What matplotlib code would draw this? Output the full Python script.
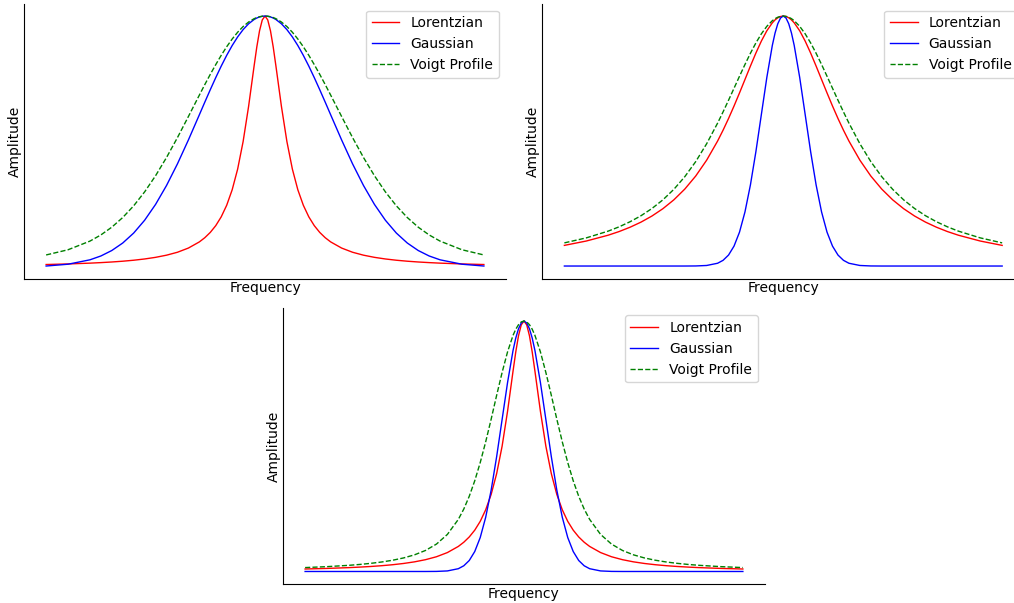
import numpy as np
import matplotlib
matplotlib.use('Agg')
import matplotlib.pyplot as plt

# frequency samples (arbitrary units), same grid for every curve
freq = [-10, -9, -8, -7.5, -7, -6.5, -6, -5.5, -5, -4.5, -4, -3.5, -3, -2.75, -2.5, -2.25,
        -2, -1.75, -1.5, -1.25, -1, -0.75, -0.5, -0.375, -0.25, -0.125, 0,
        0.125, 0.25, 0.375, 0.5, 0.75, 1, 1.25, 1.5, 1.75, 2, 2.25, 2.5, 2.75, 3,
        3.5, 4, 4.5, 5, 5.5, 6, 6.5, 7, 7.5, 8, 9, 10]

# normalised amplitudes
lorentz_narrow = [0.0099, 0.0122, 0.0154, 0.0175, 0.0200, 0.0231, 0.0270, 0.0320, 0.0385, 0.0471,
                  0.0588, 0.0755, 0.1000, 0.1168, 0.1379, 0.1649, 0.2000, 0.2462, 0.3077, 0.3902,
                  0.5000, 0.6400, 0.8000, 0.8767, 0.9412, 0.9846, 1.0000, 0.9846, 0.9412, 0.8767,
                  0.8000, 0.6400, 0.5000, 0.3902, 0.3077, 0.2462, 0.2000, 0.1649, 0.1379, 0.1168,
                  0.1000, 0.0755, 0.0588, 0.0471, 0.0385, 0.0320, 0.0270, 0.0231, 0.0200, 0.0175,
                  0.0154, 0.0122, 0.0099]
lorentz_wide = [0.0826, 0.1000, 0.1233, 0.1379, 0.1552, 0.1756, 0.2000, 0.2293, 0.2647, 0.3077,
                0.3600, 0.4235, 0.5000, 0.5434, 0.5902, 0.6400, 0.6923, 0.7461, 0.8000, 0.8521,
                0.9000, 0.9412, 0.9730, 0.9846, 0.9931, 0.9983, 1.0000, 0.9983, 0.9931, 0.9846,
                0.9730, 0.9412, 0.9000, 0.8521, 0.8000, 0.7461, 0.6923, 0.6400, 0.5902, 0.5434,
                0.5000, 0.4235, 0.3600, 0.3077, 0.2647, 0.2293, 0.2000, 0.1756, 0.1552, 0.1379,
                0.1233, 0.1000, 0.0826]
gauss_wide = [0.0039, 0.0111, 0.0286, 0.0439, 0.0657, 0.0956, 0.1353, 0.1863, 0.2494, 0.3247,
              0.4111, 0.5063, 0.6065, 0.6570, 0.7066, 0.7548, 0.8007, 0.8435, 0.8825, 0.9169,
              0.9460, 0.9692, 0.9862, 0.9922, 0.9965, 0.9991, 1.0000, 0.9991, 0.9965, 0.9922,
              0.9862, 0.9692, 0.9460, 0.9169, 0.8825, 0.8435, 0.8007, 0.7548, 0.7066, 0.6570,
              0.6065, 0.5063, 0.4111, 0.3247, 0.2494, 0.1863, 0.1353, 0.0956, 0.0657, 0.0439,
              0.0286, 0.0111, 0.0039]
gauss_narrow = [0, 0, 0, 0, 0, 0, 0, 0, 0, 0,
                0.0003, 0.0022, 0.0111, 0.0228, 0.0439, 0.0796, 0.1353, 0.2163, 0.3247, 0.4578,
                0.6065, 0.7548, 0.8825, 0.9321, 0.9692, 0.9922, 1.0000, 0.9922, 0.9692, 0.9321,
                0.8825, 0.7548, 0.6065, 0.4578, 0.3247, 0.2163, 0.1353, 0.0796, 0.0439, 0.0228,
                0.0111, 0.0022, 0.0003, 0, 0, 0, 0, 0, 0, 0,
                0, 0, 0]
voigt_a = [0.0480, 0.0687, 0.1031, 0.1277, 0.1587, 0.1972, 0.2438, 0.2993, 0.3637, 0.4363,
           0.5157, 0.5997, 0.6850, 0.7270, 0.7678, 0.8066, 0.8437, 0.8778, 0.9085, 0.9355,
           0.9582, 0.9762, 0.9894, 0.9940, 0.9973, 0.9993, 1.0000, 0.9993, 0.9973, 0.9940,
           0.9894, 0.9762, 0.9582, 0.9355, 0.9085, 0.8778, 0.8437, 0.8066, 0.7678, 0.7270,
           0.6850, 0.5997, 0.5157, 0.4363, 0.3637, 0.2993, 0.2438, 0.1972, 0.1587, 0.1277,
           0.1031, 0.0687, 0.0480]
voigt_b = [0.0926, 0.1126, 0.1396, 0.1568, 0.1771, 0.2012, 0.2301, 0.2647, 0.3067, 0.3572,
           0.4177, 0.4892, 0.5717, 0.6166, 0.6633, 0.7111, 0.7591, 0.8062, 0.8512, 0.8926,
           0.9290, 0.9590, 0.9814, 0.9895, 0.9953, 0.9988, 1.0000, 0.9988, 0.9953, 0.9895,
           0.9814, 0.9590, 0.9290, 0.8926, 0.8512, 0.8062, 0.7591, 0.7111, 0.6633, 0.6166,
           0.5717, 0.4892, 0.4177, 0.3572, 0.3067, 0.2647, 0.2301, 0.2012, 0.1771, 0.1568,
           0.1396, 0.1126, 0.0926]
voigt_c = [0.0156, 0.0193, 0.0246, 0.0281, 0.0325, 0.0379, 0.0449, 0.0541, 0.0665, 0.0839,
           0.1093, 0.1479, 0.2079, 0.2493, 0.3004, 0.3620, 0.4346, 0.5175, 0.6081, 0.7030,
           0.7944, 0.8770, 0.9428, 0.9673, 0.9853, 0.9963, 1.0000, 0.9963, 0.9853, 0.9673,
           0.9428, 0.8770, 0.7944, 0.7030, 0.6081, 0.5175, 0.4346, 0.3620, 0.3004, 0.2493,
           0.2079, 0.1479, 0.1093, 0.0839, 0.0665, 0.0541, 0.0449, 0.0379, 0.0325, 0.0281,
           0.0246, 0.0193, 0.0156]

panels = [
    (lorentz_narrow, gauss_wide, voigt_a),
    (lorentz_wide, gauss_narrow, voigt_b),
    (lorentz_narrow, gauss_narrow, voigt_c),
]

fig = plt.figure(figsize=(10.14, 6.03), dpi=100)
# axes boxes in figure fraction; the top-right one runs off the right edge
boxes = [
    [0.0239, 0.5381, 0.4749, 0.4560],
    [0.5350, 0.5381, 0.4749, 0.4560],
    [0.2793, 0.0315, 0.4749, 0.4569],
]

for box, (lor, gau, voi) in zip(boxes, panels):
    ax = fig.add_axes(box)
    ax.plot(freq, lor, color='red', lw=1, label='Lorentzian')
    ax.plot(freq, gau, color='blue', lw=1, label='Gaussian')
    ax.plot(freq, voi, color='green', lw=1, ls='--', label='Voigt Profile')
    ax.set_xlabel('Frequency', labelpad=2)
    ax.set_ylabel('Amplitude', labelpad=2)
    ax.set_xticks([])
    ax.set_yticks([])
    ax.spines['top'].set_visible(False)
    ax.spines['right'].set_visible(False)
    ax.legend(loc='upper right')

fig.savefig('out.png', dpi=100)
